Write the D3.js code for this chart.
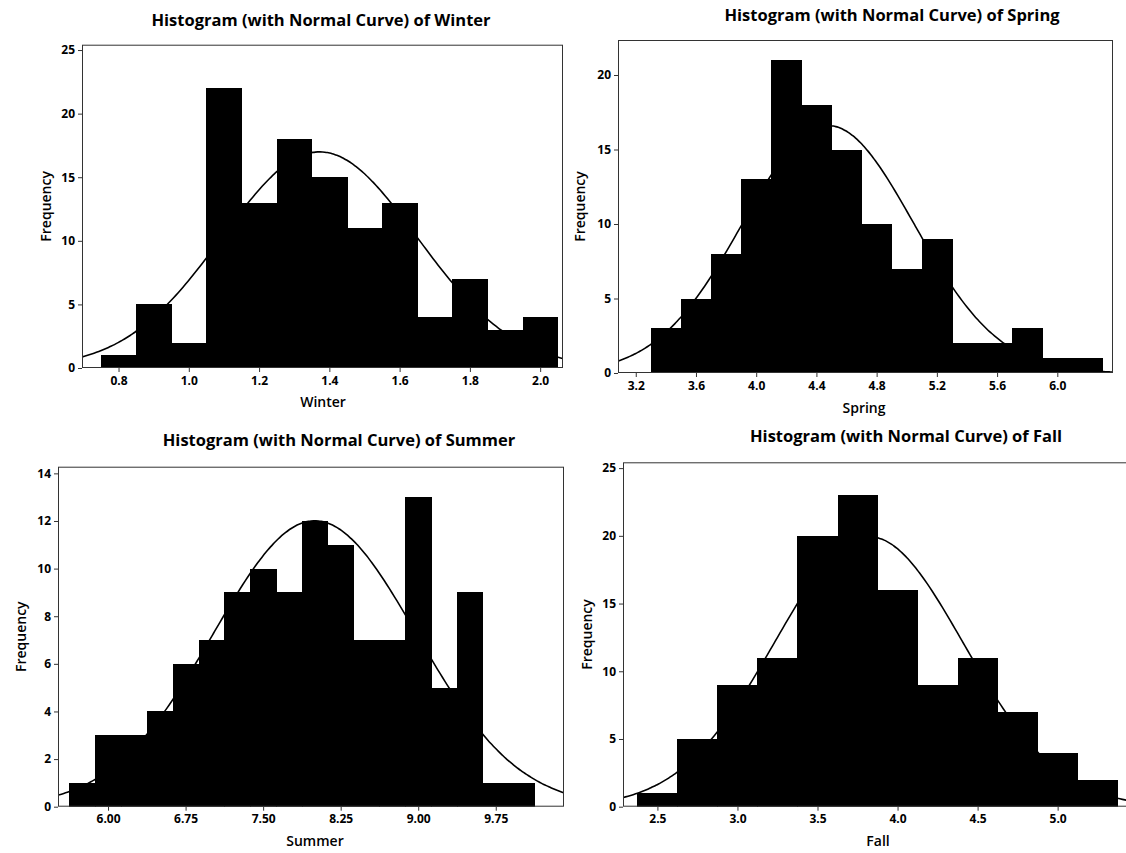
<!DOCTYPE html>
<html>
<head>
<meta charset="utf-8">
<script src="https://cdn.jsdelivr.net/npm/d3@7"></script>
<style>
  body { margin: 0; background: #fff; }
  svg { display: block; font-family: "Open Sans", "Noto Sans", sans-serif; }
  .frame { fill: none; stroke: #333; stroke-width: 1; }
  .bar { fill: #000; stroke: none; shape-rendering: crispEdges; }
  .curve { fill: none; stroke: #000; stroke-width: 1.6; }
  .axis path { display: none; }
  .axis line { stroke: #333; }
  .axis text { font-size: 12px; font-weight: 700; fill: #000; font-family: "Open Sans", sans-serif; }
  .title { font-size: 16.5px; font-weight: 700; text-anchor: middle; }
  .xlab, .ylab { font-size: 14px; font-weight: 600; text-anchor: middle; }
</style>
</head>
<body>
<svg id="chart" width="1126" height="853"></svg>
<script>
// bin midpoints + frequencies
const winterMids = [0.8, 0.9, 1.0, 1.1, 1.2, 1.3, 1.4, 1.5, 1.6, 1.7, 1.8, 1.9, 2.0];
const winterCounts = [1, 5, 2, 22, 13, 18, 15, 11, 13, 4, 7, 3, 4];
const winterTicks = [0.8, 1.0, 1.2, 1.4, 1.6, 1.8, 2.0];

const springMids = [3.4, 3.6, 3.8, 4.0, 4.2, 4.4, 4.6, 4.8, 5.0, 5.2, 5.4, 5.6, 5.8, 6.0, 6.2];
const springCounts = [3, 5, 8, 13, 21, 18, 15, 10, 7, 9, 2, 2, 3, 1, 1];
const springTicks = [3.2, 3.6, 4.0, 4.4, 4.8, 5.2, 5.6, 6.0];

const summerMids = [5.75, 6.0, 6.25, 6.5, 6.75, 7.0, 7.25, 7.5, 7.75, 8.0, 8.25, 8.5, 8.75, 9.0, 9.25, 9.5, 9.75, 10.0];
const summerCounts = [1, 3, 3, 4, 6, 7, 9, 10, 9, 12, 11, 7, 7, 13, 5, 9, 1, 1];
const summerTicks = [6.0, 6.75, 7.5, 8.25, 9.0, 9.75];

const fallMids = [2.5, 2.75, 3.0, 3.25, 3.5, 3.75, 4.0, 4.25, 4.5, 4.75, 5.0, 5.25];
const fallCounts = [1, 5, 9, 11, 20, 23, 16, 9, 11, 7, 4, 2];
const fallTicks = [2.5, 3.0, 3.5, 4.0, 4.5, 5.0];

// normal fit (mean, stdev) of each season
const winterFit = [1.372, 0.277];
const springFit = [4.478, 0.567];
const summerFit = [8.0, 0.98];
const fallFit = [3.82, 0.59];

const panels = [
  { name: "Winter", mids: winterMids, counts: winterCounts, width: 0.1, ticks: winterTicks, fit: winterFit,
    fmt: ".1f", xDom: [0.696, 2.065], yMax: 25.42, yTicks: [0, 5, 10, 15, 20, 25],
    box: { l: 82, r: 563, t: 44.7, b: 368 }, title: [321, 20], xlab: [323, 402], ylabX: 46 },
  { name: "Spring", mids: springMids, counts: springCounts, width: 0.2, ticks: springTicks, fit: springFit,
    fmt: ".1f", xDom: [3.082, 6.37], yMax: 22.35, yTicks: [0, 5, 10, 15, 20],
    box: { l: 618, r: 1113, t: 40, b: 373 }, title: [892, 15], xlab: [864, 408], ylabX: 580 },
  { name: "Summer", mids: summerMids, counts: summerCounts, width: 0.25, ticks: summerTicks, fit: summerFit,
    fmt: ".2f", xDom: [5.516, 10.41], yMax: 14.28, yTicks: [0, 2, 4, 6, 8, 10, 12, 14],
    box: { l: 58, r: 564, t: 466.7, b: 806.7 }, title: [339, 440], xlab: [315, 841], ylabX: 21 },
  { name: "Fall", mids: fallMids, counts: fallCounts, width: 0.25, ticks: fallTicks, fit: fallFit,
    fmt: ".1f", xDom: [2.285, 5.452], yMax: 25.43, yTicks: [0, 5, 10, 15, 20, 25],
    box: { l: 623, r: 1130, t: 462.3, b: 806.7 }, title: [906, 436], xlab: [878, 841], ylabX: 587 }
];

const svg = d3.select("#chart");

panels.forEach((p, i) => {
  const x = d3.scaleLinear().domain(p.xDom).range([p.box.l, p.box.r]);
  const y = d3.scaleLinear().domain([0, p.yMax]).range([p.box.b, p.box.t]);
  const g = svg.append("g");

  g.append("clipPath").attr("id", "clip" + i)
    .append("rect")
    .attr("x", p.box.l).attr("y", p.box.t)
    .attr("width", p.box.r - p.box.l).attr("height", p.box.b - p.box.t);

  const plot = g.append("g").attr("clip-path", `url(#clip${i})`);

  // bars
  plot.selectAll(".bar").data(p.mids.map((m, j) => ({ m, c: p.counts[j] })))
    .enter().append("rect").attr("class", "bar")
    .attr("x", d => x(d.m - p.width / 2))
    .attr("width", d => x(d.m + p.width / 2) - x(d.m - p.width / 2) + 0.6)
    .attr("y", d => y(d.c))
    .attr("height", d => y(0) - y(d.c));

  // normal curve scaled to counts
  const n = d3.sum(p.counts);
  const [mu, sd] = p.fit;
  const pdf = v => n * p.width * Math.exp(-0.5 * ((v - mu) / sd) ** 2) / (sd * Math.sqrt(2 * Math.PI));
  const xs = d3.range(0, 201).map(k => p.xDom[0] + (p.xDom[1] - p.xDom[0]) * k / 200);
  plot.append("path").attr("class", "curve")
    .attr("d", d3.line().x(v => x(v)).y(v => y(pdf(v))).curve(d3.curveBasis)(xs));

  // frame
  g.append("rect").attr("class", "frame")
    .attr("x", p.box.l + 0.5).attr("y", p.box.t + 0.5)
    .attr("width", p.box.r - p.box.l - 1).attr("height", p.box.b - p.box.t - 1);

  // axes
  g.append("g").attr("class", "axis")
    .attr("transform", `translate(0,${p.box.b})`)
    .call(d3.axisBottom(x).tickValues(p.ticks).tickFormat(d3.format(p.fmt)).tickSize(4).tickPadding(4));
  g.append("g").attr("class", "axis")
    .attr("transform", `translate(${p.box.l},0)`)
    .call(d3.axisLeft(y).tickValues(p.yTicks).tickSize(4).tickPadding(3));

  // labels
  g.append("text").attr("class", "title")
    .attr("x", p.title[0]).attr("y", p.title[1]).attr("dy", "0.35em")
    .text(`Histogram (with Normal Curve) of ${p.name}`);
  g.append("text").attr("class", "xlab")
    .attr("x", p.xlab[0]).attr("y", p.xlab[1]).attr("dy", "0.35em")
    .text(p.name);
  g.append("text").attr("class", "ylab")
    .attr("transform", `translate(${p.ylabX},${(p.box.t + p.box.b) / 2}) rotate(-90)`)
    .attr("dy", "0.35em")
    .text("Frequency");
});
</script>
</body>
</html>
